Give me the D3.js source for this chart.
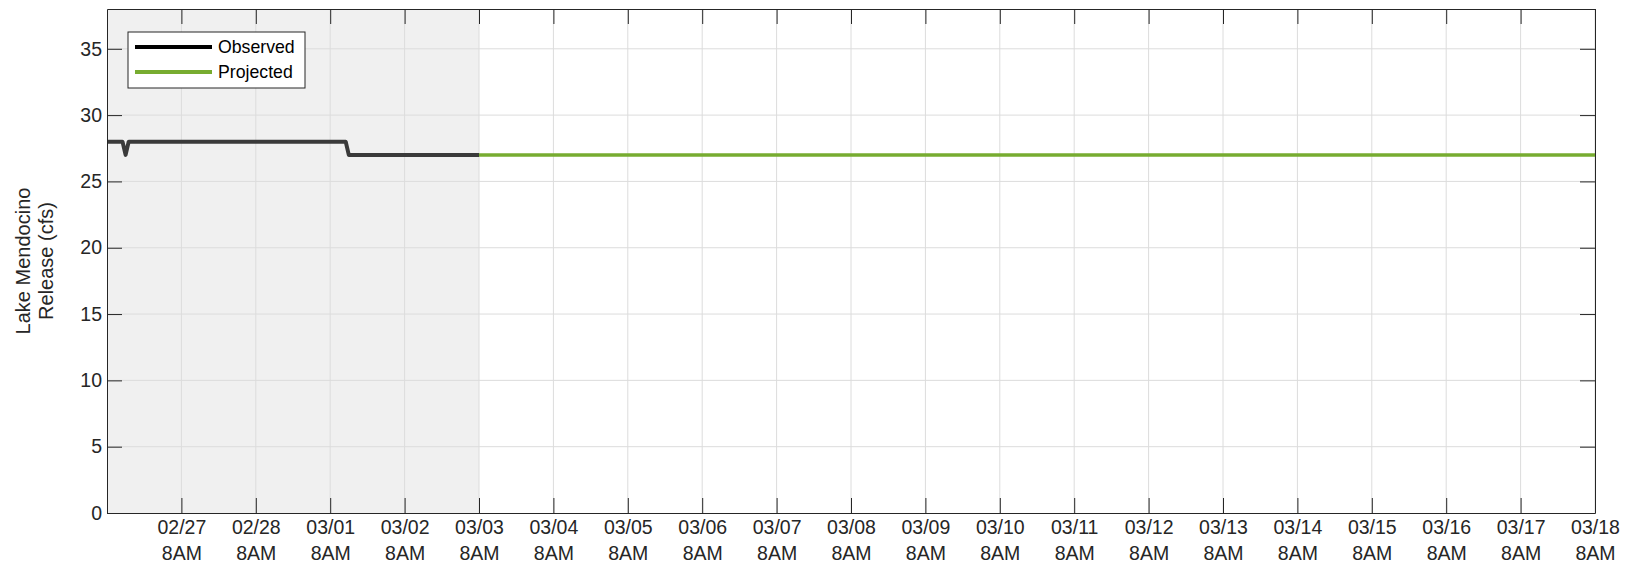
<!DOCTYPE html>
<html>
<head>
<meta charset="utf-8">
<script src="https://cdn.jsdelivr.net/npm/d3@7"></script>
<style>
  body { margin: 0; background: #fff; }
  svg { font-family: "Liberation Sans", Arial, sans-serif; }
  .axis path, .axis line { stroke: #262626; }
  .axis text { fill: #262626; font-size: 19.5px; }
</style>
</head>
<body>
<svg id="chart" width="1626" height="567"></svg>
<script>
// observed release (change points only), cfs
const observedTimes = ["2023-02-26T08:00", "2023-02-26T13:00", "2023-02-26T14:00", "2023-02-26T15:00",
                       "2023-03-01T13:00", "2023-03-01T14:00", "2023-03-03T08:00"];
const observedValues = [28, 28, 27, 28, 28, 27, 27];

const projectedTimes = ["2023-03-03T08:00", "2023-03-18T08:00"];
const projectedValues = [27, 27];

const tickDates = ["2023-02-27T08:00", "2023-02-28T08:00", "2023-03-01T08:00", "2023-03-02T08:00",
                   "2023-03-03T08:00", "2023-03-04T08:00", "2023-03-05T08:00", "2023-03-06T08:00",
                   "2023-03-07T08:00", "2023-03-08T08:00", "2023-03-09T08:00", "2023-03-10T08:00",
                   "2023-03-11T08:00", "2023-03-12T08:00", "2023-03-13T08:00", "2023-03-14T08:00",
                   "2023-03-15T08:00", "2023-03-16T08:00", "2023-03-17T08:00", "2023-03-18T08:00"];
const yTicks = [0, 5, 10, 15, 20, 25, 30, 35];

const xStart = "2023-02-26T08:00";
const xEnd = "2023-03-18T08:00";
const nowTime = "2023-03-03T08:00";
const yLabel = ["Lake Mendocino", "Release (cfs)"];
const legendNames = ["Observed", "Projected"];

const parse = d3.timeParse("%Y-%m-%dT%H:%M");
const observed = observedTimes.map((t, i) => ({ date: parse(t), value: observedValues[i] }));
const projected = projectedTimes.map((t, i) => ({ date: parse(t), value: projectedValues[i] }));

const margin = {top: 9, right: 31, bottom: 54, left: 107};
const width = 1626 - margin.left - margin.right;
const height = 567 - margin.top - margin.bottom;

const svg = d3.select("#chart");
const g = svg.append("g").attr("transform", `translate(${margin.left},${margin.top})`);

const x = d3.scaleTime().domain([parse(xStart), parse(xEnd)]).range([0, width]);
const y = d3.scaleLinear().domain([0, 38]).range([height, 0]);

// shaded "past" region
g.append("rect")
  .attr("x", 0).attr("y", 0)
  .attr("width", x(parse(nowTime))).attr("height", height)
  .attr("fill", "#f0f0f0");

// grid
const ticksX = tickDates.map(parse);
g.append("g").selectAll("line").data(ticksX).join("line")
  .attr("x1", d => x(d)).attr("x2", d => x(d))
  .attr("y1", 0).attr("y2", height)
  .attr("stroke", "#dcdcdc").attr("stroke-width", 1);
g.append("g").selectAll("line").data(yTicks.filter(d => d > 0)).join("line")
  .attr("x1", 0).attr("x2", width)
  .attr("y1", d => y(d)).attr("y2", d => y(d))
  .attr("stroke", "#dcdcdc").attr("stroke-width", 1);

// lines
const line = d3.line().x(d => x(d.date)).y(d => y(d.value));
g.append("path").datum(observed)
  .attr("fill", "none").attr("stroke", "#3a3a3a").attr("stroke-width", 4)
  .attr("stroke-linejoin", "round")
  .attr("d", line);
g.append("path").datum(projected)
  .attr("fill", "none").attr("stroke", "#77ac30").attr("stroke-width", 3.5)
  .attr("d", line);

// axes (ticks inward, MATLAB-like box)
const tickLen = 15;
const xAxis = g.append("g").attr("class", "axis")
  .attr("transform", `translate(0,${height})`)
  .call(d3.axisBottom(x).tickValues(ticksX).tickSizeInner(-tickLen).tickSizeOuter(0).tickPadding(7)
    .tickFormat(d3.timeFormat("%m/%d")));
xAxis.selectAll(".tick text").each(function(d) {
  const t = d3.select(this);
  t.text(null);
  t.append("tspan").attr("x", 0).attr("dy", "0.71em").text(d3.timeFormat("%m/%d")(d));
  t.append("tspan").attr("x", 0).attr("dy", "1.36em").text("8AM");
});

g.append("g").attr("class", "axis")
  .call(d3.axisTop(x).tickValues(ticksX).tickSizeInner(-tickLen).tickSizeOuter(0).tickFormat(""));

g.append("g").attr("class", "axis")
  .call(d3.axisLeft(y).tickValues(yTicks).tickSizeInner(-tickLen).tickSizeOuter(0).tickPadding(5));

g.append("g").attr("class", "axis")
  .attr("transform", `translate(${width},0)`)
  .call(d3.axisRight(y).tickValues(yTicks).tickSizeInner(-tickLen).tickSizeOuter(0).tickFormat(""));

g.selectAll(".axis .domain").attr("stroke", "#262626");

// y label
const yl = svg.append("text")
  .attr("transform", `translate(0,${margin.top + height / 2}) rotate(-90)`)
  .attr("text-anchor", "middle")
  .attr("fill", "#262626").attr("font-size", 20);
yl.append("tspan").attr("x", 0).attr("y", 30).text(yLabel[0]);
yl.append("tspan").attr("x", 0).attr("y", 53).text(yLabel[1]);

// legend
const legend = g.append("g").attr("transform", "translate(21,23)");
legend.append("rect")
  .attr("width", 177).attr("height", 56)
  .attr("fill", "#fff").attr("stroke", "#262626").attr("stroke-width", 1);
const legendColors = ["#000", "#77ac30"];
legendNames.forEach((name, i) => {
  const ly = 15 + i * 25;
  legend.append("line")
    .attr("x1", 7).attr("x2", 84).attr("y1", ly).attr("y2", ly)
    .attr("stroke", legendColors[i]).attr("stroke-width", 4);
  legend.append("text")
    .attr("x", 90).attr("y", ly).attr("dy", "0.35em")
    .attr("font-size", 17.7).attr("fill", "#000")
    .text(name);
});
</script>
</body>
</html>
